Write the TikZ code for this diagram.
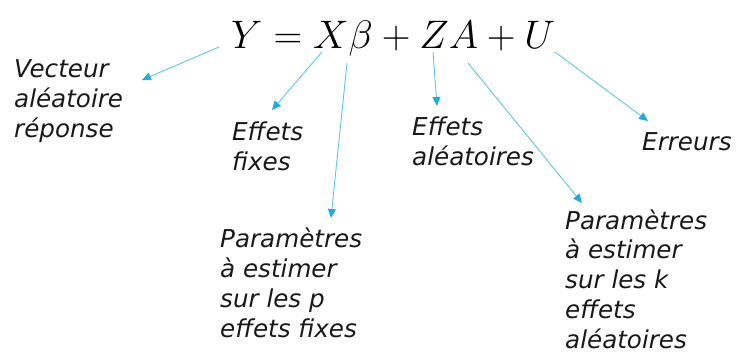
\documentclass[tikz,border=0pt]{standalone}
\usepackage{fontspec}
\usepackage{graphicx}
\setmainfont{DejaVu Sans}
\usetikzlibrary{arrows.meta}
\definecolor{arrblue}{RGB}{95,195,235}
\definecolor{tipblue}{RGB}{35,170,225}
\begin{document}
\begin{tikzpicture}[x=1pt,y=-1pt,
  lbl/.style={inner sep=0pt,anchor=base west,align=left,font=\fontsize{24.6}{29.7}\selectfont\itshape,text=black!90},
  conn/.style={draw=arrblue,line width=0.9pt,-{Triangle[length=9pt,width=8pt,color=tipblue]}}]
\useasboundingbox (0,0) rectangle (745,354);
\node[inner sep=0pt,anchor=base west,font=\fontsize{24.88}{26}\selectfont] (eq) at (231,48) {\scalebox{1.6}{$Y = X\beta + ZA + U$}};
\node[lbl] (l1) at (14,137) {Vecteur\\aléatoire\\réponse};
\node[lbl] (l2) at (232,170) {Effets\\fixes};
\node[lbl] (l3) at (220,337) {Paramètres\\à estimer\\sur les p\\effets fixes};
\node[lbl] (l4) at (412,165) {Effets\\aléatoires};
\node[lbl] (l5) at (642,150) {Erreurs};
\node[lbl] (l6) at (565,348) {Paramètres\\à estimer\\sur les k\\effets\\aléatoires};
\coordinate (s1) at (219,47); \coordinate (t1) at (142,80);
\coordinate (s2) at (322,52); \coordinate (t2) at (272,110);
\coordinate (s3) at (347,63); \coordinate (t3) at (331,218);
\coordinate (s4) at (433,52); \coordinate (t4) at (437,106);
\coordinate (s5) at (468,63); \coordinate (t5) at (582,203);
\coordinate (s6) at (555,52); \coordinate (t6) at (648,121);
\draw[conn] (s1) -- (t1);
\draw[conn] (s2) -- (t2);
\draw[conn] (s3) -- (t3);
\draw[conn] (s4) -- (t4);
\draw[conn] (s5) -- (t5);
\draw[conn] (s6) -- (t6);
\end{tikzpicture}
\end{document}
